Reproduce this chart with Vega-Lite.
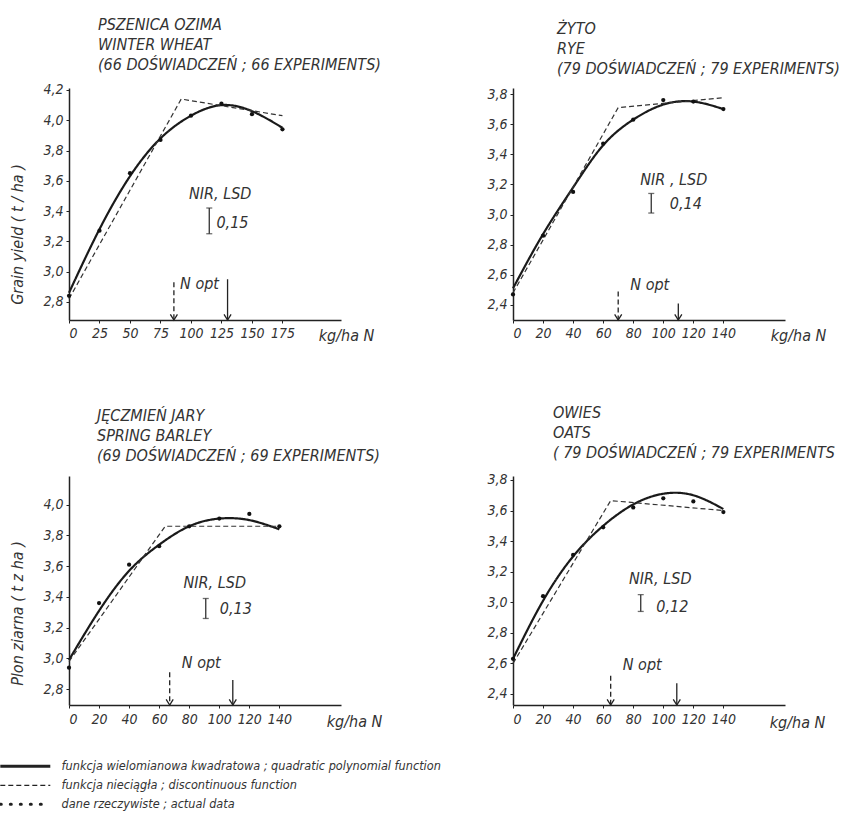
{
  "$schema": "https://vega.github.io/schema/vega-lite/v6.json",
  "background": "white",
  "padding": {"left": 0, "top": 16, "right": 5, "bottom": 5},
  "config": {
    "view": {"stroke": null},
    "font": "Liberation Sans Narrow, DejaVu Sans Condensed, DejaVu Sans, sans-serif",
    "axis": {"domainColor": "#222", "domainWidth": 1.5, "tickColor": "#222", "tickSize": 3, "grid": false,
      "labelFont": "Liberation Sans Narrow, DejaVu Sans Condensed, DejaVu Sans, sans-serif", "labelFontStyle": "italic", "labelFontSize": 14, "labelColor": "#333",
      "titleFont": "Liberation Sans Narrow, DejaVu Sans Condensed, DejaVu Sans, sans-serif", "titleFontStyle": "italic", "titleFontWeight": "normal", "titleFontSize": 16, "titleColor": "#333"},
    "title": {"font": "Liberation Sans Narrow, DejaVu Sans Condensed, DejaVu Sans, sans-serif", "fontSize": 16, "fontStyle": "italic", "fontWeight": "normal", "color": "#333", "anchor": "start", "frame": "group", "lineHeight": 20},
    "text": {"font": "Liberation Sans Narrow, DejaVu Sans Condensed, DejaVu Sans, sans-serif", "fontStyle": "italic", "fontSize": 16, "color": "#333"},
    "legend": {"labelFont": "Liberation Sans Narrow, DejaVu Sans Condensed, DejaVu Sans, sans-serif", "labelFontStyle": "italic", "labelFontSize": 12.6, "labelColor": "#333", "labelLimit": 700, "padding": 0}
  },
  "data": {"values": [
    {"crop": "w", "kind": "quad", "series": "funkcja wielomianowa kwadratowa ; quadratic polynomial function", "N": 0, "y": 2.86},
    {"crop": "w", "kind": "quad", "series": "funkcja wielomianowa kwadratowa ; quadratic polynomial function", "N": 25, "y": 3.28},
    {"crop": "w", "kind": "quad", "series": "funkcja wielomianowa kwadratowa ; quadratic polynomial function", "N": 50, "y": 3.63},
    {"crop": "w", "kind": "quad", "series": "funkcja wielomianowa kwadratowa ; quadratic polynomial function", "N": 75, "y": 3.88},
    {"crop": "w", "kind": "quad", "series": "funkcja wielomianowa kwadratowa ; quadratic polynomial function", "N": 100, "y": 4.03},
    {"crop": "w", "kind": "quad", "series": "funkcja wielomianowa kwadratowa ; quadratic polynomial function", "N": 125, "y": 4.10},
    {"crop": "w", "kind": "quad", "series": "funkcja wielomianowa kwadratowa ; quadratic polynomial function", "N": 150, "y": 4.06},
    {"crop": "w", "kind": "quad", "series": "funkcja wielomianowa kwadratowa ; quadratic polynomial function", "N": 175, "y": 3.95},
    {"crop": "w", "kind": "disc", "series": "funkcja nieciągła ; discontinuous function", "N": 0, "y": 2.82},
    {"crop": "w", "kind": "disc", "series": "funkcja nieciągła ; discontinuous function", "N": 92, "y": 4.14},
    {"crop": "w", "kind": "disc", "series": "funkcja nieciągła ; discontinuous function", "N": 175, "y": 4.03},
    {"crop": "w", "kind": "data", "N": 0, "y": 2.84},
    {"crop": "w", "kind": "data", "N": 25, "y": 3.27},
    {"crop": "w", "kind": "data", "N": 50, "y": 3.65},
    {"crop": "w", "kind": "data", "N": 75, "y": 3.87},
    {"crop": "w", "kind": "data", "N": 100, "y": 4.03},
    {"crop": "w", "kind": "data", "N": 125, "y": 4.11},
    {"crop": "w", "kind": "data", "N": 150, "y": 4.04},
    {"crop": "w", "kind": "data", "N": 175, "y": 3.94},
    {"crop": "w", "kind": "arrow", "series": "funkcja nieciągła ; discontinuous function", "N": 86, "y": 2.93, "y2": 2.68},
    {"crop": "w", "kind": "arrow", "series": "funkcja wielomianowa kwadratowa ; quadratic polynomial function", "N": 130, "y": 2.95, "y2": 2.68},
    {"crop": "w", "kind": "lsd", "N": 115, "y": 3.42, "y2": 3.25},
    {"crop": "w", "kind": "text", "N": 124, "y": 3.51, "label": "NIR, LSD"},
    {"crop": "w", "kind": "text", "N": 134, "y": 3.32, "label": "0,15"},
    {"crop": "w", "kind": "text", "N": 107, "y": 2.92, "label": "N opt"},

    {"crop": "r", "kind": "quad", "series": "funkcja wielomianowa kwadratowa ; quadratic polynomial function", "N": 0, "y": 2.51},
    {"crop": "r", "kind": "quad", "series": "funkcja wielomianowa kwadratowa ; quadratic polynomial function", "N": 20, "y": 2.87},
    {"crop": "r", "kind": "quad", "series": "funkcja wielomianowa kwadratowa ; quadratic polynomial function", "N": 40, "y": 3.18},
    {"crop": "r", "kind": "quad", "series": "funkcja wielomianowa kwadratowa ; quadratic polynomial function", "N": 60, "y": 3.46},
    {"crop": "r", "kind": "quad", "series": "funkcja wielomianowa kwadratowa ; quadratic polynomial function", "N": 80, "y": 3.63},
    {"crop": "r", "kind": "quad", "series": "funkcja wielomianowa kwadratowa ; quadratic polynomial function", "N": 100, "y": 3.73},
    {"crop": "r", "kind": "quad", "series": "funkcja wielomianowa kwadratowa ; quadratic polynomial function", "N": 120, "y": 3.75},
    {"crop": "r", "kind": "quad", "series": "funkcja wielomianowa kwadratowa ; quadratic polynomial function", "N": 140, "y": 3.70},
    {"crop": "r", "kind": "disc", "series": "funkcja nieciągła ; discontinuous function", "N": 0, "y": 2.48},
    {"crop": "r", "kind": "disc", "series": "funkcja nieciągła ; discontinuous function", "N": 70, "y": 3.71},
    {"crop": "r", "kind": "disc", "series": "funkcja nieciągła ; discontinuous function", "N": 140, "y": 3.775},
    {"crop": "r", "kind": "data", "N": 0, "y": 2.47},
    {"crop": "r", "kind": "data", "N": 20, "y": 2.86},
    {"crop": "r", "kind": "data", "N": 40, "y": 3.15},
    {"crop": "r", "kind": "data", "N": 60, "y": 3.47},
    {"crop": "r", "kind": "data", "N": 80, "y": 3.63},
    {"crop": "r", "kind": "data", "N": 100, "y": 3.76},
    {"crop": "r", "kind": "data", "N": 120, "y": 3.75},
    {"crop": "r", "kind": "data", "N": 140, "y": 3.70},
    {"crop": "r", "kind": "arrow", "series": "funkcja nieciągła ; discontinuous function", "N": 70, "y": 2.49, "y2": 2.30},
    {"crop": "r", "kind": "arrow", "series": "funkcja wielomianowa kwadratowa ; quadratic polynomial function", "N": 110, "y": 2.41, "y2": 2.30},
    {"crop": "r", "kind": "lsd", "N": 92, "y": 3.14, "y2": 3.01},
    {"crop": "r", "kind": "text", "N": 107, "y": 3.23, "label": "NIR , LSD"},
    {"crop": "r", "kind": "text", "N": 115, "y": 3.07, "label": "0,14"},
    {"crop": "r", "kind": "text", "N": 91, "y": 2.53, "label": "N opt"},

    {"crop": "b", "kind": "quad", "series": "funkcja wielomianowa kwadratowa ; quadratic polynomial function", "N": 0, "y": 2.99},
    {"crop": "b", "kind": "quad", "series": "funkcja wielomianowa kwadratowa ; quadratic polynomial function", "N": 20, "y": 3.31},
    {"crop": "b", "kind": "quad", "series": "funkcja wielomianowa kwadratowa ; quadratic polynomial function", "N": 40, "y": 3.57},
    {"crop": "b", "kind": "quad", "series": "funkcja wielomianowa kwadratowa ; quadratic polynomial function", "N": 60, "y": 3.74},
    {"crop": "b", "kind": "quad", "series": "funkcja wielomianowa kwadratowa ; quadratic polynomial function", "N": 80, "y": 3.86},
    {"crop": "b", "kind": "quad", "series": "funkcja wielomianowa kwadratowa ; quadratic polynomial function", "N": 100, "y": 3.91},
    {"crop": "b", "kind": "quad", "series": "funkcja wielomianowa kwadratowa ; quadratic polynomial function", "N": 120, "y": 3.90},
    {"crop": "b", "kind": "quad", "series": "funkcja wielomianowa kwadratowa ; quadratic polynomial function", "N": 140, "y": 3.84},
    {"crop": "b", "kind": "disc", "series": "funkcja nieciągła ; discontinuous function", "N": 0, "y": 2.98},
    {"crop": "b", "kind": "disc", "series": "funkcja nieciągła ; discontinuous function", "N": 64, "y": 3.86},
    {"crop": "b", "kind": "disc", "series": "funkcja nieciągła ; discontinuous function", "N": 140, "y": 3.86},
    {"crop": "b", "kind": "data", "N": 0, "y": 2.94},
    {"crop": "b", "kind": "data", "N": 20, "y": 3.36},
    {"crop": "b", "kind": "data", "N": 40, "y": 3.61},
    {"crop": "b", "kind": "data", "N": 60, "y": 3.73},
    {"crop": "b", "kind": "data", "N": 80, "y": 3.86},
    {"crop": "b", "kind": "data", "N": 100, "y": 3.91},
    {"crop": "b", "kind": "data", "N": 120, "y": 3.94},
    {"crop": "b", "kind": "data", "N": 140, "y": 3.86},
    {"crop": "b", "kind": "arrow", "series": "funkcja nieciągła ; discontinuous function", "N": 67, "y": 2.91, "y2": 2.697},
    {"crop": "b", "kind": "arrow", "series": "funkcja wielomianowa kwadratowa ; quadratic polynomial function", "N": 109, "y": 2.86, "y2": 2.697},
    {"crop": "b", "kind": "lsd", "N": 91, "y": 3.39, "y2": 3.26},
    {"crop": "b", "kind": "text", "N": 97, "y": 3.49, "label": "NIR, LSD"},
    {"crop": "b", "kind": "text", "N": 111, "y": 3.32, "label": "0,13"},
    {"crop": "b", "kind": "text", "N": 88, "y": 2.97, "label": "N opt"},

    {"crop": "o", "kind": "quad", "series": "funkcja wielomianowa kwadratowa ; quadratic polynomial function", "N": 0, "y": 2.63},
    {"crop": "o", "kind": "quad", "series": "funkcja wielomianowa kwadratowa ; quadratic polynomial function", "N": 20, "y": 3.01},
    {"crop": "o", "kind": "quad", "series": "funkcja wielomianowa kwadratowa ; quadratic polynomial function", "N": 40, "y": 3.30},
    {"crop": "o", "kind": "quad", "series": "funkcja wielomianowa kwadratowa ; quadratic polynomial function", "N": 60, "y": 3.50},
    {"crop": "o", "kind": "quad", "series": "funkcja wielomianowa kwadratowa ; quadratic polynomial function", "N": 80, "y": 3.64},
    {"crop": "o", "kind": "quad", "series": "funkcja wielomianowa kwadratowa ; quadratic polynomial function", "N": 100, "y": 3.71},
    {"crop": "o", "kind": "quad", "series": "funkcja wielomianowa kwadratowa ; quadratic polynomial function", "N": 120, "y": 3.70},
    {"crop": "o", "kind": "quad", "series": "funkcja wielomianowa kwadratowa ; quadratic polynomial function", "N": 140, "y": 3.61},
    {"crop": "o", "kind": "disc", "series": "funkcja nieciągła ; discontinuous function", "N": 0, "y": 2.60},
    {"crop": "o", "kind": "disc", "series": "funkcja nieciągła ; discontinuous function", "N": 65, "y": 3.665},
    {"crop": "o", "kind": "disc", "series": "funkcja nieciągła ; discontinuous function", "N": 140, "y": 3.60},
    {"crop": "o", "kind": "data", "N": 0, "y": 2.63},
    {"crop": "o", "kind": "data", "N": 20, "y": 3.04},
    {"crop": "o", "kind": "data", "N": 40, "y": 3.31},
    {"crop": "o", "kind": "data", "N": 60, "y": 3.49},
    {"crop": "o", "kind": "data", "N": 80, "y": 3.62},
    {"crop": "o", "kind": "data", "N": 100, "y": 3.68},
    {"crop": "o", "kind": "data", "N": 120, "y": 3.66},
    {"crop": "o", "kind": "data", "N": 140, "y": 3.59},
    {"crop": "o", "kind": "arrow", "series": "funkcja nieciągła ; discontinuous function", "N": 65, "y": 2.52, "y2": 2.328},
    {"crop": "o", "kind": "arrow", "series": "funkcja wielomianowa kwadratowa ; quadratic polynomial function", "N": 109, "y": 2.47, "y2": 2.328},
    {"crop": "o", "kind": "lsd", "N": 85, "y": 3.05, "y2": 2.94},
    {"crop": "o", "kind": "text", "N": 98, "y": 3.15, "label": "NIR, LSD"},
    {"crop": "o", "kind": "text", "N": 106, "y": 2.97, "label": "0,12"},
    {"crop": "o", "kind": "text", "N": 86, "y": 2.59, "label": "N opt"}
  ]},
  "columns": 2,
  "bounds": "flush",
  "spacing": {"row": 156, "column": 172},
  "concat": [
    {
      "title": {"text": ["PSZENICA OZIMA", "WINTER WHEAT", "(66 DOŚWIADCZEŃ ; 66 EXPERIMENTS)"], "dx": 29, "offset": 10},
      "width": 272, "height": 232,
      "transform": [{"filter": "datum.crop === 'w'"}],
      "encoding": {
        "x": {"field": "N", "type": "quantitative", "scale": {"domain": [0, 223], "nice": false, "zero": false},
          "axis": {"values": [0, 25, 50, 75, 100, 125, 150, 175], "title": "kg/ha N", "titleX": 277, "titleY": 15, "titleAngle": 0, "titleAlign": "center", "titleBaseline": "middle", "labelPadding": 3}},
        "y": {"field": "y", "type": "quantitative", "scale": {"domain": [2.68, 4.213], "nice": false, "zero": false},
          "axis": {"values": [2.8, 3.0, 3.2, 3.4, 3.6, 3.8, 4.0, 4.2], "labelExpr": "replace(format(datum.value, '.1f'), '.', ',')", "title": "Grain yield  ( t / ha )", "titleX": -52, "titleY": 146, "titleAlign": "center", "titleBaseline": "middle", "labelPadding": 3}}
      },
      "layer": [
        {"transform": [{"filter": "datum.kind === 'quad'"}], "mark": {"type": "line", "interpolate": "natural", "strokeWidth": 2.2, "color": "#1a1a1a"},
          "encoding": {"strokeDash": {"field": "series", "type": "nominal",
            "scale": {"domain": ["funkcja wielomianowa kwadratowa ; quadratic polynomial function", "funkcja nieciągła ; discontinuous function", "dane rzeczywiste ; actual data"], "range": [[1, 0], [5, 3], [1, 9]]},
            "legend": {"orient": "none", "legendX": -69, "legendY": 672, "title": null, "symbolType": "stroke", "symbolSize": 2500, "symbolStrokeColor": "#222", "symbolStrokeWidth": 2, "symbolOffset": 19, "labelOffset": 30, "rowPadding": 6,
              "encode": {"symbols": {"update": {"strokeWidth": {"signal": "datum.index === 1 ? 1.2 : 3"}, "strokeCap": {"signal": "datum.index === 2 ? 'round' : 'butt'"}}}}}}}},
        {"transform": [{"filter": "datum.kind === 'disc'"}], "mark": {"type": "line", "strokeWidth": 1.2, "color": "#333"},
          "encoding": {"strokeDash": {"field": "series", "type": "nominal", "scale": {"domain": ["funkcja wielomianowa kwadratowa ; quadratic polynomial function", "funkcja nieciągła ; discontinuous function", "dane rzeczywiste ; actual data"], "range": [[1, 0], [5, 3], [1, 9]]}}}},
        {"transform": [{"filter": "datum.kind === 'data'"}], "mark": {"type": "point", "filled": true, "size": 18, "color": "#111", "opacity": 1}},
        {"transform": [{"filter": "datum.kind === 'arrow'"}], "mark": {"type": "rule", "strokeWidth": 1.3, "color": "#222"},
          "encoding": {"y2": {"field": "y2"}, "strokeDash": {"field": "series", "type": "nominal", "scale": {"domain": ["funkcja wielomianowa kwadratowa ; quadratic polynomial function", "funkcja nieciągła ; discontinuous function", "dane rzeczywiste ; actual data"], "range": [[1, 0], [5, 3], [1, 9]]}}}},
        {"transform": [{"filter": "datum.kind === 'arrow'"}], "mark": {"type": "point", "shape": "M-1,-1.6L0,0L1,-1.6", "filled": false, "size": 50, "strokeWidth": 1.3, "color": "#222", "opacity": 1},
          "encoding": {"y": {"field": "y2", "type": "quantitative"}}},
        {"transform": [{"filter": "datum.kind === 'lsd'"}], "mark": {"type": "errorbar", "ticks": {"size": 6}, "thickness": 1.3, "color": "#333"},
          "encoding": {"y2": {"field": "y2"}}},
        {"transform": [{"filter": "datum.kind === 'text'"}], "mark": {"type": "text"}, "encoding": {"text": {"field": "label"}}}
      ]
    },
    {
      "title": {"text": ["ŻYTO", "RYE", "(79 DOŚWIADCZEŃ ; 79 EXPERIMENTS)"], "dx": 44, "offset": 10},
      "width": 272, "height": 232,
      "transform": [{"filter": "datum.crop === 'r'"}],
      "encoding": {
        "x": {"field": "N", "type": "quantitative", "scale": {"domain": [0, 181], "nice": false, "zero": false},
          "axis": {"values": [0, 20, 40, 60, 80, 100, 120, 140], "title": "kg/ha N", "titleX": 285, "titleY": 15, "titleAngle": 0, "titleAlign": "center", "titleBaseline": "middle", "labelPadding": 3}},
        "y": {"field": "y", "type": "quantitative", "scale": {"domain": [2.30, 3.84], "nice": false, "zero": false},
          "axis": {"values": [2.4, 2.6, 2.8, 3.0, 3.2, 3.4, 3.6, 3.8], "labelExpr": "replace(format(datum.value, '.1f'), '.', ',')", "title": null, "labelPadding": 3}}
      },
      "layer": [
        {"transform": [{"filter": "datum.kind === 'quad'"}], "mark": {"type": "line", "interpolate": "natural", "strokeWidth": 2.2, "color": "#1a1a1a"},
          "encoding": {"strokeDash": {"field": "series", "type": "nominal", "scale": {"domain": ["funkcja wielomianowa kwadratowa ; quadratic polynomial function", "funkcja nieciągła ; discontinuous function", "dane rzeczywiste ; actual data"], "range": [[1, 0], [5, 3], [1, 9]]}}}},
        {"transform": [{"filter": "datum.kind === 'disc'"}], "mark": {"type": "line", "strokeWidth": 1.2, "color": "#333"},
          "encoding": {"strokeDash": {"field": "series", "type": "nominal", "scale": {"domain": ["funkcja wielomianowa kwadratowa ; quadratic polynomial function", "funkcja nieciągła ; discontinuous function", "dane rzeczywiste ; actual data"], "range": [[1, 0], [5, 3], [1, 9]]}}}},
        {"transform": [{"filter": "datum.kind === 'data'"}], "mark": {"type": "point", "filled": true, "size": 18, "color": "#111", "opacity": 1}},
        {"transform": [{"filter": "datum.kind === 'arrow'"}], "mark": {"type": "rule", "strokeWidth": 1.3, "color": "#222"},
          "encoding": {"y2": {"field": "y2"}, "strokeDash": {"field": "series", "type": "nominal", "scale": {"domain": ["funkcja wielomianowa kwadratowa ; quadratic polynomial function", "funkcja nieciągła ; discontinuous function", "dane rzeczywiste ; actual data"], "range": [[1, 0], [5, 3], [1, 9]]}}}},
        {"transform": [{"filter": "datum.kind === 'arrow'"}], "mark": {"type": "point", "shape": "M-1,-1.6L0,0L1,-1.6", "filled": false, "size": 50, "strokeWidth": 1.3, "color": "#222", "opacity": 1},
          "encoding": {"y": {"field": "y2", "type": "quantitative"}}},
        {"transform": [{"filter": "datum.kind === 'lsd'"}], "mark": {"type": "errorbar", "ticks": {"size": 6}, "thickness": 1.3, "color": "#333"},
          "encoding": {"y2": {"field": "y2"}}},
        {"transform": [{"filter": "datum.kind === 'text'"}], "mark": {"type": "text"}, "encoding": {"text": {"field": "label"}}}
      ]
    },
    {
      "title": {"text": ["JĘCZMIEŃ JARY", "SPRING BARLEY", "(69 DOŚWIADCZEŃ ; 69 EXPERIMENTS)"], "dx": 28, "offset": 12},
      "width": 272, "height": 229,
      "transform": [{"filter": "datum.crop === 'b'"}],
      "encoding": {
        "x": {"field": "N", "type": "quantitative", "scale": {"domain": [0, 181], "nice": false, "zero": false},
          "axis": {"values": [0, 20, 40, 60, 80, 100, 120, 140], "title": "kg/ha N", "titleX": 285, "titleY": 16, "titleAngle": 0, "titleAlign": "center", "titleBaseline": "middle", "labelPadding": 4}},
        "y": {"field": "y", "type": "quantitative", "scale": {"domain": [2.697, 4.187], "nice": false, "zero": false},
          "axis": {"values": [2.8, 3.0, 3.2, 3.4, 3.6, 3.8, 4.0], "labelExpr": "replace(format(datum.value, '.1f'), '.', ',')", "title": "Plon ziarna  ( t z ha )", "titleX": -52, "titleY": 137, "titleAlign": "center", "titleBaseline": "middle", "labelPadding": 3}}
      },
      "layer": [
        {"transform": [{"filter": "datum.kind === 'quad'"}], "mark": {"type": "line", "interpolate": "natural", "strokeWidth": 2.2, "color": "#1a1a1a"},
          "encoding": {"strokeDash": {"field": "series", "type": "nominal", "scale": {"domain": ["funkcja wielomianowa kwadratowa ; quadratic polynomial function", "funkcja nieciągła ; discontinuous function", "dane rzeczywiste ; actual data"], "range": [[1, 0], [5, 3], [1, 9]]}}}},
        {"transform": [{"filter": "datum.kind === 'disc'"}], "mark": {"type": "line", "strokeWidth": 1.2, "color": "#333"},
          "encoding": {"strokeDash": {"field": "series", "type": "nominal", "scale": {"domain": ["funkcja wielomianowa kwadratowa ; quadratic polynomial function", "funkcja nieciągła ; discontinuous function", "dane rzeczywiste ; actual data"], "range": [[1, 0], [5, 3], [1, 9]]}}}},
        {"transform": [{"filter": "datum.kind === 'data'"}], "mark": {"type": "point", "filled": true, "size": 18, "color": "#111", "opacity": 1}},
        {"transform": [{"filter": "datum.kind === 'arrow'"}], "mark": {"type": "rule", "strokeWidth": 1.3, "color": "#222"},
          "encoding": {"y2": {"field": "y2"}, "strokeDash": {"field": "series", "type": "nominal", "scale": {"domain": ["funkcja wielomianowa kwadratowa ; quadratic polynomial function", "funkcja nieciągła ; discontinuous function", "dane rzeczywiste ; actual data"], "range": [[1, 0], [5, 3], [1, 9]]}}}},
        {"transform": [{"filter": "datum.kind === 'arrow'"}], "mark": {"type": "point", "shape": "M-1,-1.6L0,0L1,-1.6", "filled": false, "size": 50, "strokeWidth": 1.3, "color": "#222", "opacity": 1},
          "encoding": {"y": {"field": "y2", "type": "quantitative"}}},
        {"transform": [{"filter": "datum.kind === 'lsd'"}], "mark": {"type": "errorbar", "ticks": {"size": 6}, "thickness": 1.3, "color": "#333"},
          "encoding": {"y2": {"field": "y2"}}},
        {"transform": [{"filter": "datum.kind === 'text'"}], "mark": {"type": "text"}, "encoding": {"text": {"field": "label"}}}
      ]
    },
    {
      "title": {"text": ["OWIES", "OATS", "( 79 DOŚWIADCZEŃ ; 79 EXPERIMENTS"], "dx": 40, "offset": 12},
      "width": 272, "height": 229,
      "transform": [{"filter": "datum.crop === 'o'"}],
      "encoding": {
        "x": {"field": "N", "type": "quantitative", "scale": {"domain": [0, 181], "nice": false, "zero": false},
          "axis": {"values": [0, 20, 40, 60, 80, 100, 120, 140], "title": "kg/ha N", "titleX": 284, "titleY": 17, "titleAngle": 0, "titleAlign": "center", "titleBaseline": "middle", "labelPadding": 4}},
        "y": {"field": "y", "type": "quantitative", "scale": {"domain": [2.328, 3.826], "nice": false, "zero": false},
          "axis": {"values": [2.4, 2.6, 2.8, 3.0, 3.2, 3.4, 3.6, 3.8], "labelExpr": "replace(format(datum.value, '.1f'), '.', ',')", "title": null, "labelPadding": 3}}
      },
      "layer": [
        {"transform": [{"filter": "datum.kind === 'quad'"}], "mark": {"type": "line", "interpolate": "natural", "strokeWidth": 2.2, "color": "#1a1a1a"},
          "encoding": {"strokeDash": {"field": "series", "type": "nominal", "scale": {"domain": ["funkcja wielomianowa kwadratowa ; quadratic polynomial function", "funkcja nieciągła ; discontinuous function", "dane rzeczywiste ; actual data"], "range": [[1, 0], [5, 3], [1, 9]]}}}},
        {"transform": [{"filter": "datum.kind === 'disc'"}], "mark": {"type": "line", "strokeWidth": 1.2, "color": "#333"},
          "encoding": {"strokeDash": {"field": "series", "type": "nominal", "scale": {"domain": ["funkcja wielomianowa kwadratowa ; quadratic polynomial function", "funkcja nieciągła ; discontinuous function", "dane rzeczywiste ; actual data"], "range": [[1, 0], [5, 3], [1, 9]]}}}},
        {"transform": [{"filter": "datum.kind === 'data'"}], "mark": {"type": "point", "filled": true, "size": 18, "color": "#111", "opacity": 1}},
        {"transform": [{"filter": "datum.kind === 'arrow'"}], "mark": {"type": "rule", "strokeWidth": 1.3, "color": "#222"},
          "encoding": {"y2": {"field": "y2"}, "strokeDash": {"field": "series", "type": "nominal", "scale": {"domain": ["funkcja wielomianowa kwadratowa ; quadratic polynomial function", "funkcja nieciągła ; discontinuous function", "dane rzeczywiste ; actual data"], "range": [[1, 0], [5, 3], [1, 9]]}}}},
        {"transform": [{"filter": "datum.kind === 'arrow'"}], "mark": {"type": "point", "shape": "M-1,-1.6L0,0L1,-1.6", "filled": false, "size": 50, "strokeWidth": 1.3, "color": "#222", "opacity": 1},
          "encoding": {"y": {"field": "y2", "type": "quantitative"}}},
        {"transform": [{"filter": "datum.kind === 'lsd'"}], "mark": {"type": "errorbar", "ticks": {"size": 6}, "thickness": 1.3, "color": "#333"},
          "encoding": {"y2": {"field": "y2"}}},
        {"transform": [{"filter": "datum.kind === 'text'"}], "mark": {"type": "text"}, "encoding": {"text": {"field": "label"}}}
      ]
    }
  ]
}
